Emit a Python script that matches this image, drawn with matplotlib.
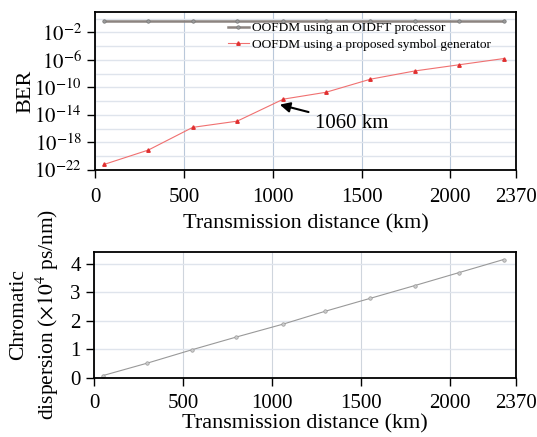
import matplotlib
matplotlib.use("Agg")
import matplotlib.pyplot as plt
from matplotlib.ticker import NullFormatter

distance_km = [50, 300, 550, 800, 1060, 1300, 1550, 1800, 2050, 2300]
ber_oidft = [0.5, 0.5, 0.5, 0.5, 0.5, 0.5, 0.5, 0.5, 0.5, 0.5]
ber_exp_proposed = [-21.2, -19.1, -15.8, -14.9, -11.7, -10.7, -8.8, -7.6, -6.7, -5.8]
dispersion_1e4 = [0.07, 0.51, 0.98, 1.43, 1.88, 2.34, 2.79, 3.24, 3.70, 4.16]
x_ticks = [0, 500, 1000, 1500, 2000, 2370]
ber_tick_exps = [-22, -18, -14, -10, -6, -2]
disp_ticks = [0, 1, 2, 3, 4]

plt.rcParams['font.family'] = ['Liberation Serif', 'DejaVu Serif']
plt.rcParams['mathtext.fontset'] = 'stix'

fig = plt.figure(figsize=(5.37, 4.37), dpi=100)
ax1 = fig.add_axes([0.177, 0.611, 0.784, 0.362])
ax2 = fig.add_axes([0.175, 0.136, 0.786, 0.287])

hgrid = '#dfe4ec'
vgrid = '#b9c8da'

# Top plot
ber_prop = [10.0 ** e for e in ber_exp_proposed]
ax1.plot(distance_km, ber_oidft, color='#8c8480', lw=1.8, marker='o', ms=2.5,
         mfc='#9a9a9a', mec='#777777', mew=0.5,
         label='OOFDM using an OIDFT processor')
ax1.plot(distance_km, ber_prop, color='#f07070', lw=0.8, marker='^', ms=2.5,
         mfc='#e03030', mec='#e03030',
         label='OOFDM using a proposed symbol generator')
ax1.set_yscale('log')
ax1.set_xlim(0, 2370)
ax1.set_ylim(1e-22, 1e1)
ax1.set_xticks(x_ticks)
ax1.set_yticks([10.0 ** e for e in ber_tick_exps])
ax1.set_yticklabels([r'$10^{%d}$' % e for e in ber_tick_exps])
ax1.set_yticks([10.0 ** e for e in range(-20, 1, 4)], minor=True)
ax1.yaxis.set_minor_formatter(NullFormatter())
ax1.yaxis.grid(True, which='both', color=hgrid, lw=1.0)
ax1.xaxis.grid(True, color=vgrid, lw=0.8)
ax1.set_axisbelow(True)
ax1.tick_params(which='minor', length=0)
ax1.tick_params(which='major', direction='out', length=6, width=1, labelsize=15)
ax1.tick_params(axis='x', pad=7)
ax1.set_xlabel('Transmission distance (km)', fontsize=16, labelpad=5)
ax1.set_ylabel('BER', fontsize=16, labelpad=-1)
leg = ax1.legend(loc='upper left', bbox_to_anchor=(0.315, 0.935), frameon=False,
                 fontsize=9.6, handlelength=1.6, handletextpad=0.2,
                 borderaxespad=0, borderpad=0, labelspacing=0.3)
ax1.annotate('1060 km', xy=(1040, 10.0 ** -12.5), xytext=(1240, 10.0 ** -15.2),
             fontsize=15, va='center', ha='left',
             arrowprops=dict(arrowstyle='-|>', color='black', lw=1.5,
                             mutation_scale=15, shrinkA=3, shrinkB=0))
for s in ax1.spines.values():
    s.set_linewidth(1.3)

# Bottom plot
ax2.plot(distance_km, dispersion_1e4, color='#999999', lw=0.8, marker='o', ms=2.5,
         mfc='#cccccc', mec='#999999', mew=0.5)
ax2.set_xlim(0, 2370)
ax2.set_ylim(0, 4.42)
ax2.set_xticks(x_ticks)
ax2.set_yticks(disp_ticks)
ax2.yaxis.grid(True, color=hgrid, lw=1.0)
ax2.xaxis.grid(True, color='#cfd5dd', lw=0.8)
ax2.set_axisbelow(True)
ax2.tick_params(direction='out', length=6, width=1, labelsize=15)
ax2.tick_params(axis='x', pad=6)
ax2.set_xlabel('Transmission distance (km)', fontsize=16, labelpad=1)
ax2.set_ylabel('Chromatic\ndispersion (' + r'$\times10^4$' + ' ps/nm)', fontsize=15.5,
               labelpad=7, linespacing=1.25)
for s in ax2.spines.values():
    s.set_linewidth(1.3)

fig.savefig('out.png', dpi=100)
